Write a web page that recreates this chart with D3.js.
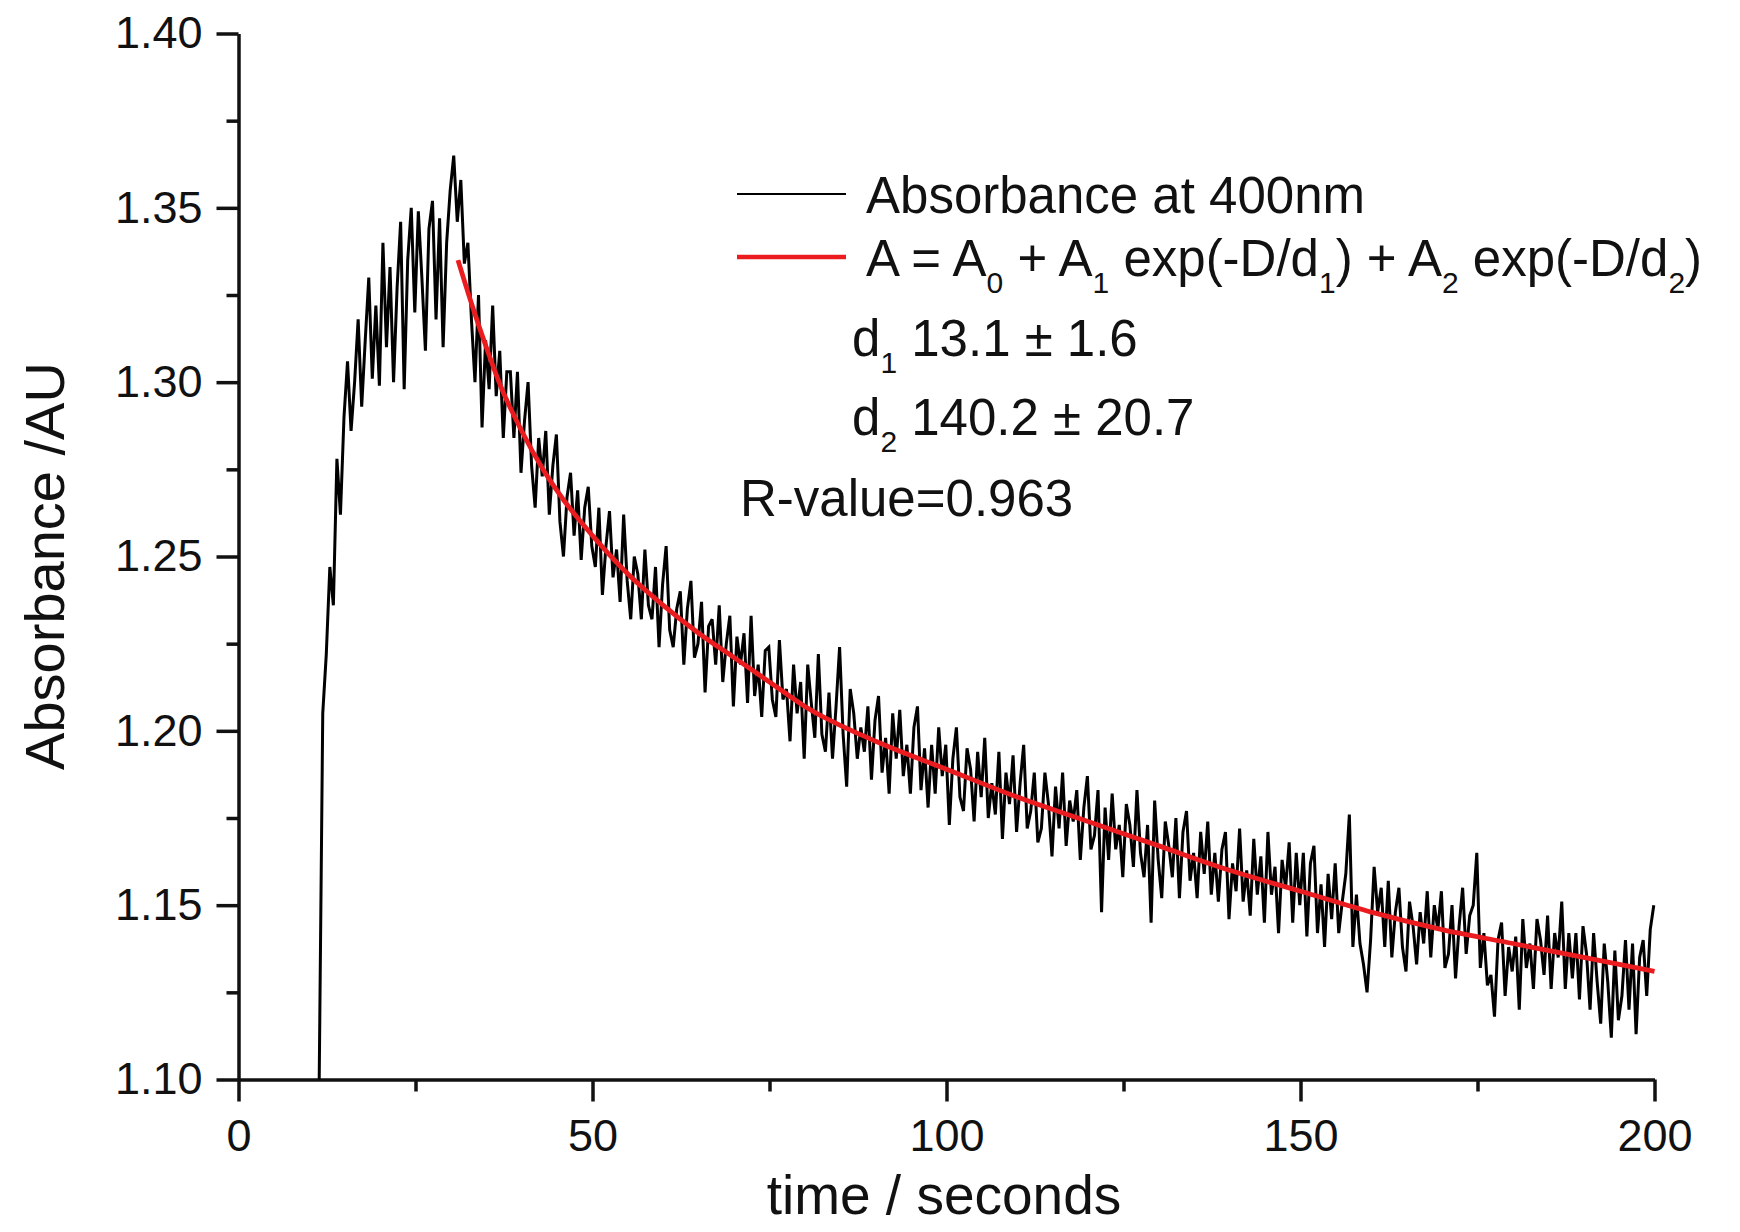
<!DOCTYPE html>
<html>
<head>
<meta charset="utf-8">
<script src="https://cdn.jsdelivr.net/npm/d3@7"></script>
<style>
  html, body { margin: 0; padding: 0; background: #fff; }
  svg { display: block; }
  text { font-family: "Liberation Sans", Arial, Helvetica, sans-serif; fill: #111; }
</style>
</head>
<body>
<svg id="chart" width="1740" height="1232"></svg>
<script>
// ---------------- data ----------------
const xTicks = [0, 50, 100, 150, 200];
const xMinorTicks = [25, 75, 125, 175];
const yTicks = [1.10, 1.15, 1.20, 1.25, 1.30, 1.35, 1.40];
const yMinorTicks = [1.125, 1.175, 1.225, 1.275, 1.325, 1.375];
const xTitle = "time / seconds";
const yTitle = "Absorbance /AU";

// measured absorbance, sampled every 0.5 s starting at 11.4 s
const sampleStart = 11.4;
const sampleStep = 0.5;
const absorbance = [
  1.100, 1.205, 1.222, 1.247, 1.236, 1.278, 1.262, 1.290, 1.306, 1.286,
  1.300, 1.318, 1.293, 1.312, 1.330, 1.301, 1.322, 1.299, 1.340, 1.310,
  1.333, 1.300, 1.327, 1.346, 1.298, 1.335, 1.350, 1.320, 1.349, 1.330,
  1.309, 1.344, 1.352, 1.318, 1.347, 1.310, 1.340, 1.355, 1.365, 1.346,
  1.358, 1.334, 1.340, 1.318, 1.300, 1.325, 1.287, 1.312, 1.298, 1.322,
  1.296, 1.309, 1.284, 1.303,
  1.303, 1.284, 1.303, 1.274, 1.289, 1.300, 1.276, 1.264, 1.284, 1.273,
  1.286, 1.262, 1.276, 1.285, 1.260, 1.250, 1.267, 1.274, 1.256, 1.269,
  1.249, 1.264, 1.270, 1.253, 1.247, 1.264, 1.239, 1.253, 1.263, 1.244,
  1.252, 1.237, 1.262, 1.243, 1.232, 1.250, 1.245, 1.232, 1.252, 1.236,
  1.232, 1.247, 1.224, 1.242, 1.253, 1.229, 1.224, 1.235, 1.240, 1.219,
  1.235, 1.243, 1.221, 1.225, 1.237, 1.211, 1.230, 1.232, 1.219, 1.236,
  1.214, 1.225, 1.233, 1.207, 1.227, 1.219, 1.228, 1.208, 1.233, 1.210,
  1.219, 1.204, 1.223, 1.224, 1.209, 1.204, 1.226, 1.209, 1.212, 1.197,
  1.219, 1.205, 1.214, 1.192, 1.219, 1.208, 1.198, 1.222, 1.199, 1.194,
  1.211, 1.192, 1.207, 1.224, 1.199, 1.184, 1.212, 1.205, 1.192, 1.201,
  1.194, 1.207, 1.186, 1.203, 1.210, 1.188, 1.198, 1.182, 1.205, 1.192,
  1.206, 1.187, 1.196, 1.182, 1.201, 1.207, 1.183, 1.195, 1.178, 1.196,
  1.182, 1.201, 1.187, 1.196, 1.173, 1.192, 1.201, 1.181, 1.177, 1.195,
  1.189, 1.174, 1.194, 1.181, 1.198, 1.175, 1.185, 1.176, 1.194, 1.169,
  1.188, 1.179, 1.193, 1.171, 1.185, 1.196, 1.172, 1.177, 1.188, 1.168,
  1.172, 1.188, 1.179, 1.164, 1.184, 1.172, 1.188, 1.167, 1.180, 1.174,
  1.183, 1.163, 1.178, 1.187, 1.166, 1.170, 1.183, 1.148, 1.178, 1.163,
  1.182, 1.166, 1.173, 1.158, 1.179, 1.173, 1.161, 1.183, 1.165, 1.158,
  1.173, 1.145, 1.180, 1.163, 1.152, 1.174, 1.167, 1.158, 1.175, 1.152,
  1.171, 1.177, 1.157, 1.165, 1.152, 1.171, 1.159, 1.174, 1.153, 1.165,
  1.151, 1.166, 1.171, 1.146, 1.162, 1.154, 1.172, 1.151, 1.160, 1.147,
  1.169, 1.153, 1.164, 1.145, 1.171, 1.153, 1.161, 1.142, 1.163, 1.155,
  1.168, 1.145, 1.165, 1.150, 1.165, 1.141, 1.162, 1.167, 1.142, 1.156,
  1.138, 1.159, 1.146, 1.162, 1.142, 1.151, 1.159, 1.176, 1.138, 1.153,
  1.139, 1.133, 1.125, 1.140, 1.161, 1.148, 1.155, 1.138, 1.157, 1.135,
  1.148, 1.155, 1.138, 1.131, 1.151, 1.144, 1.133, 1.148, 1.139, 1.154,
  1.135, 1.150, 1.143, 1.154, 1.132, 1.136, 1.150, 1.129, 1.144, 1.155,
  1.136, 1.147, 1.150, 1.165, 1.132, 1.142, 1.127, 1.130, 1.118, 1.140,
  1.145, 1.124, 1.138, 1.131, 1.141, 1.120, 1.146, 1.132, 1.139, 1.126,
  1.146, 1.140, 1.130, 1.147, 1.126, 1.142, 1.135, 1.151, 1.126, 1.142,
  1.129, 1.142, 1.123, 1.144, 1.136, 1.120, 1.142, 1.128, 1.116, 1.139,
  1.128, 1.112, 1.137, 1.117, 1.124, 1.140, 1.120, 1.139, 1.113, 1.135,
  1.140, 1.124, 1.143, 1.150
];

// fitted curve
const fitTimes  = [31, 33, 35, 37, 40, 43, 46, 50, 55, 60, 65, 70, 75, 80, 90, 100, 110, 120, 130, 140, 150, 160, 170, 180, 190, 200];
const fitValues = [1.335, 1.322, 1.310, 1.299, 1.286, 1.275, 1.266, 1.256, 1.245, 1.236, 1.228, 1.221, 1.214, 1.207, 1.197, 1.189, 1.181, 1.174, 1.167, 1.160, 1.154, 1.148, 1.143, 1.139, 1.135, 1.131];

const legendLabels = ["Absorbance at 400nm", "A = A0 + A1 exp(-D/d1) + A2 exp(-D/d2)"];
// formula split into [main text, subscript] pieces
const formulaParts = [["A = A", "0"], [" + A", "1"], [" exp(-D/d", "1"], [") + A", "2"], [" exp(-D/d", "2"], [")", null]];
const fitParams = [
  [["d", "1"], [" 13.1 ± 1.6", null]],
  [["d", "2"], [" 140.2 ± 20.7", null]]
];
const rValueText = "R-value=0.963";

// ---------------- drawing ----------------
const svg = d3.select("#chart");
const x = d3.scaleLinear().domain([0, 200]).range([238.5, 1654.5]);
const y = d3.scaleLinear().domain([1.10, 1.40]).range([1079.5, 33.5]);

const majorLen = 22, minorLen = 12;
const RED = "#ea1c1f";

// Y axis
const gy = svg.append("g").attr("transform", `translate(${x(0)},0)`);
gy.call(d3.axisLeft(y).tickValues(yTicks).tickSize(majorLen).tickSizeOuter(0).tickFormat(d3.format(".2f")).tickPadding(14));
gy.append("g").call(d3.axisLeft(y).tickValues(yMinorTicks).tickSize(minorLen).tickFormat(""))
  .select(".domain").remove();
// X axis
const gx = svg.append("g").attr("transform", `translate(0,${y(1.10)})`);
gx.call(d3.axisBottom(x).tickValues(xTicks).tickSize(majorLen).tickSizeOuter(0).tickFormat(d3.format("d")).tickPadding(18));
gx.append("g").call(d3.axisBottom(x).tickValues(xMinorTicks).tickSize(minorLen).tickFormat(""))
  .select(".domain").remove();

svg.selectAll(".domain").attr("stroke", "#111").attr("stroke-width", 3.5);
svg.selectAll(".tick line").attr("stroke", "#111").attr("stroke-width", 3.5);
svg.selectAll(".tick text").attr("font-size", 45).attr("fill", "#111")
  .attr("font-family", '"Liberation Sans", Arial, sans-serif');

// data line
const lineData = absorbance.map((v, i) => [sampleStart + i * sampleStep, v]);
svg.append("path")
  .datum(lineData)
  .attr("fill", "none")
  .attr("stroke", "#000")
  .attr("stroke-width", 3)
  .attr("stroke-linejoin", "miter")
  .attr("stroke-miterlimit", 3)
  .attr("d", d3.line().x(d => x(d[0])).y(d => y(d[1])));

// fit line
const fitData = fitTimes.map((t, i) => [t, fitValues[i]]);
svg.append("path")
  .datum(fitData)
  .attr("fill", "none")
  .attr("stroke", RED)
  .attr("stroke-width", 4.8)
  .attr("d", d3.line().curve(d3.curveMonotoneX).x(d => x(d[0])).y(d => y(d[1])));

// helper: text with subscripts
function subText(g, xPos, yPos, parts) {
  const t = g.append("text").attr("x", xPos).attr("y", yPos).attr("font-size", 51);
  let shifted = false;
  parts.forEach(([main, sub]) => {
    const m = t.append("tspan").text(main);
    if (shifted) { m.attr("dy", -17); shifted = false; }
    if (sub) {
      t.append("tspan").attr("font-size", 30).attr("dy", 17).text(sub);
      shifted = true;
    }
  });
  return t;
}

// legend
const lg = svg.append("g");
lg.append("line").attr("x1", 737).attr("x2", 846).attr("y1", 194).attr("y2", 194)
  .attr("stroke", "#000").attr("stroke-width", 2.2);
lg.append("text").attr("x", 866).attr("y", 213).attr("font-size", 51).text(legendLabels[0]);

lg.append("line").attr("x1", 737).attr("x2", 846).attr("y1", 257).attr("y2", 257)
  .attr("stroke", RED).attr("stroke-width", 4.5);
subText(lg, 866, 276, formulaParts);

const paramY = [356, 435];
fitParams.forEach((p, i) => subText(lg, 852, paramY[i], p));
lg.append("text").attr("x", 740).attr("y", 516).attr("font-size", 51).text(rValueText);

// axis titles
svg.append("text").attr("x", 944).attr("y", 1214).attr("text-anchor", "middle")
  .attr("font-size", 55).text(xTitle);
svg.append("text").attr("transform", "translate(64,566) rotate(-90)").attr("text-anchor", "middle")
  .attr("font-size", 56).text(yTitle);
</script>
</body>
</html>
